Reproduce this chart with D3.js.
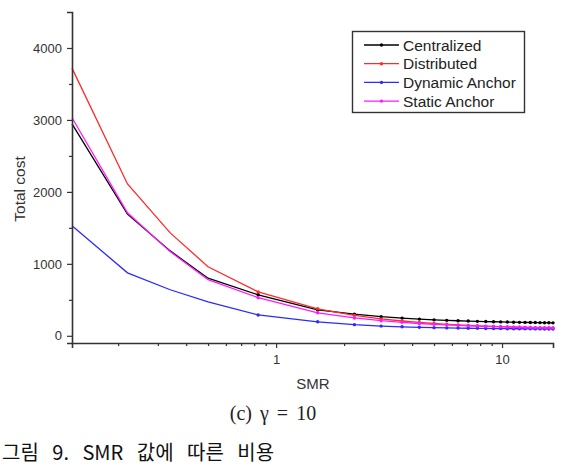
<!DOCTYPE html>
<html><head><meta charset="utf-8">
<script src="https://cdn.jsdelivr.net/npm/d3@7"></script>
<style>body{margin:0;background:#fff;}svg{display:block;}</style>
</head><body>
<svg id="c" width="566" height="466"></svg>
<script>
const smr = [0.125, 0.22, 0.34, 0.5, 0.833, 1.528, 2.222, 2.917, 3.611, 4.306, 5.0, 5.694, 6.389, 7.083, 7.778, 8.472, 9.167, 9.861, 10.556, 11.25, 11.944, 12.639, 13.333, 14.028, 14.722, 15.417, 16.111, 16.806];
const centralized = [2945, 1690, 1180, 800, 570, 360, 300, 266, 246, 232, 222, 215, 209, 205, 201, 198, 195, 193, 191, 189, 187, 186, 185, 184, 183, 182, 181, 180];
const distributed = [3720, 2110, 1430, 960, 610, 375, 284, 235, 206, 186, 171, 160, 151, 145, 139, 134, 130, 127, 124, 121, 119, 117, 115, 113, 112, 110, 109, 108];
const dynamicAnchor = [1530, 875, 640, 470, 290, 195, 155, 135, 125, 118, 113, 110, 107, 105, 104, 102, 101, 100, 99, 98, 98, 97, 97, 96, 96, 95, 95, 95];
const staticAnchor = [3030, 1710, 1170, 780, 530, 320, 248, 210, 187, 171, 160, 151, 144, 139, 135, 131, 128, 125, 123, 120, 119, 117, 116, 114, 113, 112, 111, 110];
const seriesNames = ["Centralized", "Distributed", "Dynamic Anchor", "Static Anchor"];
const seriesColors = ["#000000", "#ff2a2a", "#2b2bff", "#ff1aff"];
const yTicks = [0, 1000, 2000, 3000, 4000];
const yMinorTicks = [500, 1500, 2500, 3500];
const xTicks = [1, 10];
const xMinorTicks = [0.2, 0.3, 0.4, 0.5, 0.6, 0.7, 0.8, 0.9, 2, 3, 4, 5, 6, 7, 8, 9];
const xTitle = "SMR", yTitle = "Total cost";
const subCaption = "(c)  \u03b3 = 10";
const figCaption = "그림 9. SMR 값에 따른 비용";

const svg = d3.select("#c");
const x = d3.scaleLog().domain([0.125, 16.806]).range([72, 553]);
const y = d3.scaleLinear().domain([-100, 4500]).range([343, 12]);
const axisColor = "#333";
const font = "'Liberation Sans', Arial, sans-serif";

const data = [centralized, distributed, dynamicAnchor, staticAnchor];

// series
const line = d3.line().x((d, i) => x(smr[i])).y(d => y(d));
data.forEach((vals, k) => {
  svg.append("path").datum(vals).attr("d", line)
    .attr("fill", "none").attr("stroke", seriesColors[k]).attr("stroke-width", 1.3);
  const pts = vals.map((v, i) => ({x: smr[i], v})).filter(p => p.x > 0.8);
  svg.append("g").selectAll("circle").data(pts).join("circle")
    .attr("cx", p => x(p.x)).attr("cy", p => y(p.v)).attr("r", 1.7)
    .attr("fill", seriesColors[k]);
});

// y axis
svg.append("g").attr("transform", "translate(72,0)")
  .call(d3.axisLeft(y).tickValues(yTicks).tickSize(5).tickPadding(5).tickFormat(d3.format("d")));
svg.append("g").attr("transform", "translate(72,0)")
  .call(d3.axisLeft(y).tickValues(yMinorTicks).tickSize(3).tickFormat(""))
  .select(".domain").remove();
// x axis
svg.append("g").attr("transform", "translate(0,343)")
  .call(d3.axisBottom(x).tickValues(xTicks).tickSize(5).tickPadding(7).tickFormat(d3.format("d")));
svg.append("g").attr("transform", "translate(0,343)")
  .call(d3.axisBottom(x).tickValues(xMinorTicks).tickSize(3).tickFormat(""))
  .select(".domain").remove();
svg.selectAll(".domain").attr("stroke", axisColor).attr("stroke-width", 1.6);
svg.selectAll(".tick line").attr("stroke", axisColor).attr("stroke-width", 1.2);
svg.selectAll(".tick text").attr("fill", axisColor).style("font-family", font).style("font-size", "13px");

// axis titles
svg.append("text").attr("x", 313).attr("y", 389).attr("text-anchor", "middle")
  .style("font-family", font).style("font-size", "15px").attr("fill", axisColor).text(xTitle);
svg.append("text").attr("transform", "translate(25,189) rotate(-90)").attr("text-anchor", "middle")
  .style("font-family", font).style("font-size", "15.5px").attr("fill", axisColor).text(yTitle);

// legend
const lg = svg.append("g");
lg.append("rect").attr("x", 352.5).attr("y", 31.5).attr("width", 172).attr("height", 81)
  .attr("fill", "#fff").attr("stroke", axisColor).attr("stroke-width", 1.4);
seriesNames.forEach((n, k) => {
  const cy = 45 + k * 18.7;
  lg.append("line").attr("x1", 364).attr("x2", 399).attr("y1", cy).attr("y2", cy)
    .attr("stroke", seriesColors[k]).attr("stroke-width", 1.3);
  lg.append("circle").attr("cx", 381.5).attr("cy", cy).attr("r", 1.7).attr("fill", seriesColors[k]);
  lg.append("text").attr("x", 403).attr("y", cy + 5.5)
    .style("font-family", font).style("font-size", "15.5px").attr("fill", "#222").text(n);
});

// captions
svg.append("text").attr("x", 273).attr("y", 420).attr("text-anchor", "middle")
  .style("font-family", "'Liberation Serif', 'DejaVu Serif', serif").style("font-size", "20px")
  .style("word-spacing", "3px")
  .attr("fill", "#222").text(subCaption);
svg.append("text").attr("x", 2).attr("y", 460).attr("text-anchor", "start")
  .style("font-family", "'Noto Sans CJK KR', sans-serif").style("font-size", "20px").style("font-weight", "400")
  .style("word-spacing", "9px")
  .attr("fill", "#111").text(figCaption);
</script>
</body></html>
